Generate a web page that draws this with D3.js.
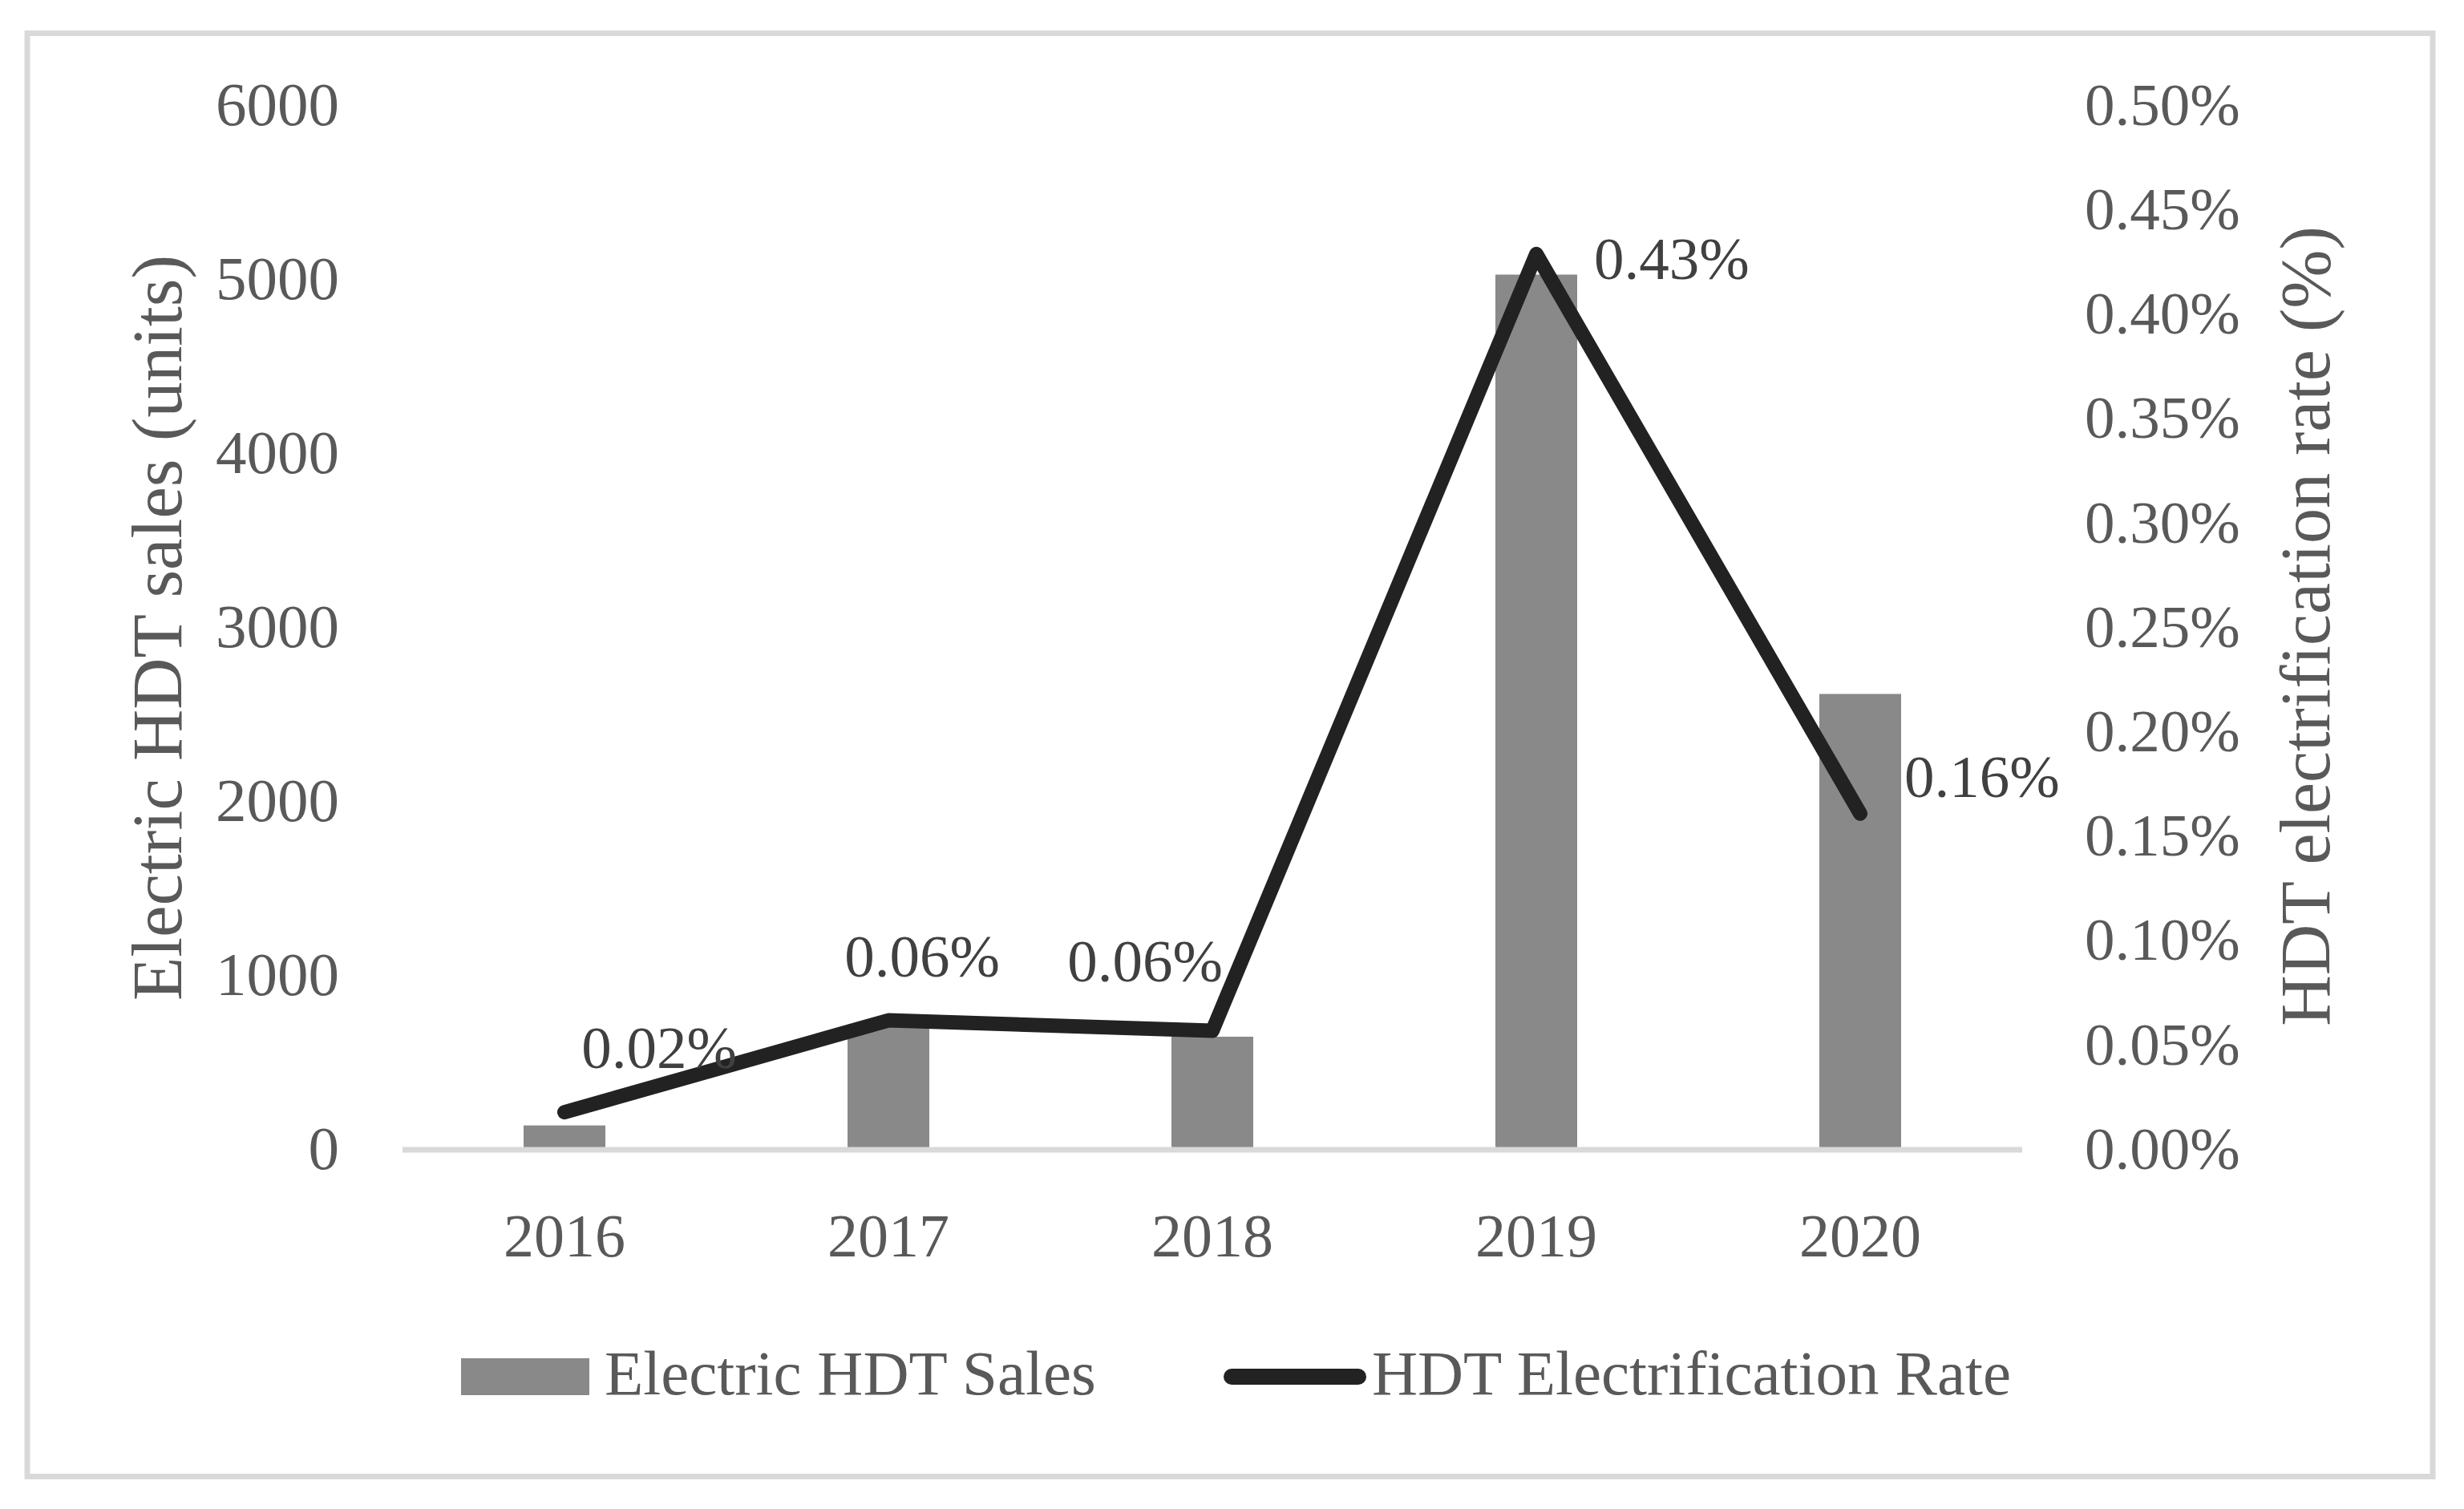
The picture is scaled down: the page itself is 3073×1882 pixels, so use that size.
<!DOCTYPE html>
<html>
<head>
<meta charset="utf-8">
<script src="https://cdn.jsdelivr.net/npm/d3@7"></script>
<style>
  body { margin: 0; background: #fff; }
  text { font-family: "Palatino Linotype", "Book Antiqua", "Liberation Serif", serif; }
</style>
</head>
<body>
<div id="chart"></div>
<script>
// data
var years = ["2016", "2017", "2018", "2019", "2020"];
var sales = [140, 720, 650, 5030, 2620];            // units
var rate = [0.018, 0.062, 0.057, 0.429, 0.161];     // percent
var rateLabels = ["0.02%", "0.06%", "0.06%", "0.43%", "0.16%"];
var salesTicks = [0, 1000, 2000, 3000, 4000, 5000, 6000];
var rateTicks = [0, 0.05, 0.1, 0.15, 0.2, 0.25, 0.3, 0.35, 0.4, 0.45, 0.5];

// where each data label sits relative to its point (anchor, dx, dy)
var labelPos = [
  ["middle", 118, -55],
  ["middle", 42, -55],
  ["middle", -84, -62],
  ["start", 72, 31],
  ["start", 55, -21]
];

var width = 3073,
    height = 1882;

var cfg = {
  left: 502, right: 2522, top: 132, bottom: 1434,
  barColor: "#898989", lineColor: "#222222",
  axisText: "#595959", labelText: "#404040", rule: "#d9d9d9"
};

var svg = d3.select("#chart")
  .append("svg")
  .attr("width", width)
  .attr("height", height);

svg.append("rect")
  .attr("width", width).attr("height", height)
  .attr("fill", "#fff");

// chart border
svg.append("rect")
  .attr("x", 34).attr("y", 41.5)
  .attr("width", 3000).attr("height", 1800)
  .attr("fill", "none")
  .attr("stroke", cfg.rule)
  .attr("stroke-width", 7);

var x = d3.scaleBand()
  .domain(years)
  .range([cfg.left, cfg.right])
  .paddingInner(0.7475)
  .paddingOuter(0.7475 / 2);

var y = d3.scaleLinear()
  .domain([0, 6000])
  .range([cfg.bottom, cfg.top]);

var yR = d3.scaleLinear()
  .domain([0, 0.5])
  .range([cfg.bottom, cfg.top]);

// left axis
var gl = svg.append("g")
  .attr("transform", "translate(" + 423 + ",0)")
  .call(d3.axisLeft(y).tickValues(salesTicks).tickSize(0).tickPadding(0)
    .tickFormat(d3.format("d")));
gl.select(".domain").remove();
gl.selectAll("text")
  .attr("fill", cfg.axisText)
  .style("font-size", "77px")
  .attr("dy", "0.31em");

// right axis
var gr = svg.append("g")
  .attr("transform", "translate(" + 2600 + ",0)")
  .call(d3.axisRight(yR).tickValues(rateTicks).tickSize(0).tickPadding(0)
    .tickFormat(function(d){ return d3.format(".2f")(d) + "%"; }));
gr.select(".domain").remove();
gr.selectAll("text")
  .attr("fill", cfg.axisText)
  .style("font-size", "75px")
  .attr("dy", "0.31em");

// bottom axis (category labels)
var gb = svg.append("g")
  .attr("transform", "translate(0," + 1567 + ")")
  .call(d3.axisBottom(x).tickSize(0).tickPadding(0));
gb.select(".domain").remove();
gb.selectAll("text")
  .attr("fill", cfg.axisText)
  .style("font-size", "76px")
  .attr("dy", 0);

// bars
svg.selectAll(".bar")
  .data(sales)
  .enter()
  .append("rect")
  .attr("class", "bar")
  .attr("x", function(d, i){ return x(years[i]); })
  .attr("width", x.bandwidth())
  .attr("y", function(d){ return y(d); })
  .attr("height", function(d){ return y(0) - y(d); })
  .attr("fill", cfg.barColor);

// baseline
svg.append("line")
  .attr("x1", cfg.left).attr("x2", cfg.right)
  .attr("y1", y(0)).attr("y2", y(0))
  .attr("stroke", cfg.rule)
  .attr("stroke-width", 7);

// rate line
var line = d3.line()
  .x(function(d, i){ return x(years[i]) + x.bandwidth() / 2; })
  .y(function(d){ return yR(d); });

svg.append("path")
  .datum(rate)
  .attr("d", line)
  .attr("fill", "none")
  .attr("stroke", cfg.lineColor)
  .attr("stroke-width", 18)
  .attr("stroke-linecap", "round")
  .attr("stroke-linejoin", "round");

// data labels
svg.selectAll(".dlabel")
  .data(rate)
  .enter()
  .append("text")
  .attr("class", "dlabel")
  .text(function(d, i){ return rateLabels[i]; })
  .attr("text-anchor", function(d, i){ return labelPos[i][0]; })
  .attr("x", function(d, i){ return x(years[i]) + x.bandwidth() / 2 + labelPos[i][1]; })
  .attr("y", function(d, i){ return yR(d) + labelPos[i][2]; })
  .attr("fill", cfg.labelText)
  .style("font-size", "75px");

// axis titles
svg.append("text")
  .text("Electric HDT sales (units)")
  .attr("transform", "translate(" + 226 + "," + 783 + ") rotate(-90)")
  .attr("text-anchor", "middle")
  .attr("fill", cfg.axisText)
  .style("font-size", "89px");

svg.append("text")
  .text("HDT electrification rate (%)")
  .attr("transform", "translate(" + 2905 + "," + 781 + ") rotate(-90)")
  .attr("text-anchor", "middle")
  .attr("fill", cfg.axisText)
  .style("font-size", "88px");

// legend
var legend = svg.append("g");
legend.append("rect")
  .attr("x", 575).attr("y", 1694)
  .attr("width", 160).attr("height", 46)
  .attr("fill", cfg.barColor);
legend.append("text")
  .text("Electric HDT Sales")
  .attr("x", 754).attr("y", 1739)
  .attr("fill", cfg.axisText)
  .style("font-size", "79px");
legend.append("line")
  .attr("x1", 1536).attr("x2", 1694)
  .attr("y1", 1717).attr("y2", 1717)
  .attr("stroke", cfg.lineColor)
  .attr("stroke-width", 20)
  .attr("stroke-linecap", "round");
legend.append("text")
  .text("HDT Electrification Rate")
  .attr("x", 1711).attr("y", 1739)
  .attr("fill", cfg.axisText)
  .style("font-size", "79px");
</script>
</body>
</html>
